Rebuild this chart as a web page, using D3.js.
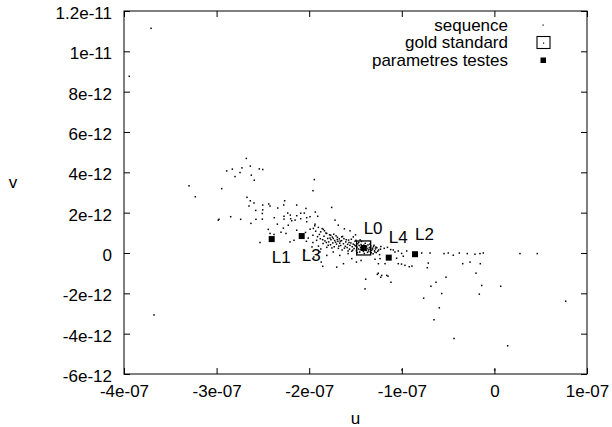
<!DOCTYPE html>
<html>
<head>
<meta charset="utf-8">
<script src="https://cdn.jsdelivr.net/npm/d3@7"></script>
<style>
  body { margin: 0; background: #fff; }
  text { font-family: "Liberation Sans", Arial, sans-serif; font-size: 17px; fill: #000; }
</style>
</head>
<body>
<div id="chart"></div>
<script>
// sequence points, u in units of 1e-7, v in units of 1e-12
const seqU = [
  -3.708,-3.943,-3.298,-2.945,-2.679,-2.891,-2.830,-2.801,-2.747,-2.726,-2.636,-2.625,-2.593,-2.539,-2.502,-1.945,-1.959,-3.230,-3.676,
  -2.672,-2.636,-2.596,-2.650,-2.502,-2.578,-2.502,-2.506,-2.437,-2.423,-2.340,-2.265,-2.275,-2.135,-2.035,-1.934,-2.848,-2.974,-2.740,-2.575,
  -2.506,-2.377,-2.272,-2.232,-2.204,-2.135,-2.092,-2.053,-2.027,-1.908,-2.272,-2.200,-2.092,-2.629,-2.531,-2.423,-2.380,-2.305,-2.279,-2.251,
  -2.207,-2.164,-2.135,-2.153,-2.189,-2.344,-2.226,-2.982,-2.442,-1.854,-1.703,
  -1.991,-2.027,-1.937,-1.955,-1.901,-1.876,-1.847,-1.811,-1.768,-1.740,-1.697,-1.649,-1.757,-1.721,-1.686,-1.559,-1.524,-1.883,
  -2.04,-2.01,-1.99,-1.96,-1.96,-1.93,-1.92,-1.90,-1.89,-1.88,-1.86,-1.85,-1.84,-1.83,-1.82,-1.81,-1.80,-1.79,-1.78,-1.77,
  -1.765,-1.75,-1.745,-1.73,-1.725,-1.71,-1.705,-1.69,-1.685,-1.675,-1.67,-1.66,-1.65,-1.645,-1.63,-1.625,-1.61,-1.605,-1.59,-1.585,
  -1.575,-1.565,-1.56,-1.55,-1.54,-1.535,-1.525,-1.515,-1.505,-1.50,-1.49,-1.485,-1.475,-1.47,-1.46,-1.455,-1.445,-1.44,-1.43,-1.425,
  -1.415,-1.41,-1.40,-1.395,-1.385,-1.38,-1.37,-1.365,-1.355,-1.35,-1.34,-1.335,-1.325,-1.32,-1.31,-1.305,-1.295,-1.285,-1.275,-1.27,
  -1.26,-1.25,-1.24,-1.23,
  -2.03,-1.97,-1.94,-1.91,-1.875,-1.855,-1.835,-1.815,-1.795,-1.775,-1.755,-1.735,-1.715,-1.695,-1.68,-1.665,-1.64,-1.62,-1.60,-1.58,
  -1.57,-1.545,-1.53,-1.51,-1.495,-1.48,-1.465,-1.45,-1.435,-1.42,-1.405,-1.39,-1.375,-1.36,-1.345,-1.33,-1.315,-1.30,-1.29,-1.28,
  -1.62,-1.50,-1.45,
  -1.81,-1.74,-1.67,-1.58,-1.54,-1.49,-1.44,-1.63,-1.87,-1.95,-2.05,
  -1.226,-1.190,-1.155,-1.120,-1.092,-1.074,-1.038,-1.002,-0.984,-0.947,-1.056,-1.235,-1.289,-1.181,-1.038,-0.966,-1.253,-0.785,
  -0.695,-0.714,-0.544,-0.498,-0.444,-0.379,-0.293,-0.210,-0.156,-0.120,-0.342,-0.263,-0.199,-0.523,-1.254,-1.217,-1.163,0.276,
  0.463,0.770,
  -1.390,-1.397,-1.264,-1.228,-1.149,-1.117,-1.003,-0.919,-0.890,-0.725,-0.631,-0.685,-0.569,-0.764,-0.595,-0.652,-0.436,-0.998,
  -0.152,-0.137,-0.163,0.068,0.143,0.003
];
const seqV = [
  11.14,8.76,3.33,3.19,4.69,4.07,4.16,3.79,3.99,4.22,4.31,3.86,3.61,4.17,4.14,3.64,3.09,2.79,-3.07,
  2.76,2.59,2.48,2.33,2.38,2.11,2.14,1.96,2.43,2.33,2.23,2.59,2.38,2.38,2.21,2.03,1.80,1.67,1.67,1.67,
  1.68,1.75,1.82,1.98,1.88,1.85,1.97,1.98,1.75,1.82,1.68,1.70,1.70,1.47,0.52,0.97,0.92,1.03,1.23,0.97,
  0.55,0.63,1.13,1.63,1.60,1.43,1.38,1.63,1.17,-0.66,-0.70,
  1.80,1.55,1.43,1.22,1.27,1.05,1.17,0.97,0.88,0.72,0.67,0.80,2.26,1.63,1.38,1.10,0.80,0.05,
  1.02,0.74,1.18,0.52,0.88,1.08,0.63,0.34,0.92,0.71,1.21,0.47,0.83,0.60,0.99,0.28,0.72,0.55,0.90,0.41,
  0.66,0.79,0.50,0.31,0.62,0.85,0.44,0.58,0.23,0.70,0.49,0.37,0.61,0.15,0.46,0.71,0.33,0.55,0.27,0.43,
  0.64,0.19,0.38,0.50,0.09,0.31,0.44,0.22,0.58,0.35,0.12,0.29,0.46,0.20,0.37,0.05,0.27,0.42,0.15,0.33,
  0.08,0.39,0.22,0.48,0.13,0.30,0.03,0.40,0.18,0.27,0.07,0.35,0.14,0.24,-0.04,0.31,0.11,0.20,0.02,0.26,
  0.09,0.15,-0.08,0.19,
  0.58,0.30,1.35,0.81,0.20,0.66,1.10,0.52,0.38,0.74,0.25,0.93,0.54,0.78,0.34,0.59,0.82,0.24,0.66,0.10,
  0.52,0.68,0.14,0.40,0.63,0.02,0.53,0.17,0.57,0.25,-0.02,0.34,0.21,0.10,0.44,0.01,0.20,0.38,0.05,0.29,
  1.20,0.90,0.65,
  -0.12,0.05,-0.12,-0.03,-0.28,-0.45,-0.37,-0.53,-0.45,-0.20,0.10,
  0.32,0.23,0.28,0.17,0.15,0.05,0.10,-0.02,-0.16,0.10,-0.26,-0.28,-0.31,-0.53,-0.53,-0.61,-0.53,0.00,
  0.00,-0.50,-0.03,0.00,-0.11,0.00,-0.03,-0.06,-0.03,0.00,-0.53,-0.45,-1.00,-1.20,-1.00,-1.11,-1.11,-0.03,
  -0.03,-2.39,
  -1.30,-1.78,-1.06,-1.20,-1.15,-1.45,-0.55,-0.68,-0.65,-0.73,-1.45,-1.65,-2.01,-2.24,-2.72,-3.31,-4.24,-5.80,
  -0.53,-1.61,-2.04,-1.65,-4.60,-5.80
];

// gold standard
const goldU = [-1.412];
const goldV = [0.25];

// tested parameters
const testNames = ["L0", "L1", "L2", "L3", "L4"];
const testU = [-1.412, -2.405, -0.857, -2.081, -1.141];
const testV = [0.25, 0.69, -0.06, 0.84, -0.23];

const uUnit = 1e-7, vUnit = 1e-12;

const xTicks = [-4e-7, -3e-7, -2e-7, -1e-7, 0, 1e-7];
const xTickLabels = ["-4e-07", "-3e-07", "-2e-07", "-1e-07", "0", "1e-07"];
const yTicks = [-6e-12, -4e-12, -2e-12, 0, 2e-12, 4e-12, 6e-12, 8e-12, 1e-11, 1.2e-11];
const yTickLabels = ["-6e-12", "-4e-12", "-2e-12", "0", "2e-12", "4e-12", "6e-12", "8e-12", "1e-11", "1.2e-11"];

const legendNames = ["sequence", "gold standard", "parametres testes"];

const W = 612, H = 427;
const MARGIN = { TOP: 11, BOTTOM: 53, LEFT: 124, RIGHT: 25 };
const WIDTH = W - MARGIN.LEFT - MARGIN.RIGHT;
const HEIGHT = H - MARGIN.TOP - MARGIN.BOTTOM;
const FONT = '"Liberation Sans", Arial, sans-serif';

const svg = d3.select("#chart").append("svg")
  .attr("width", W)
  .attr("height", H)
  .style("background", "#fff");

const g = svg.append("g")
  .attr("transform", `translate(${MARGIN.LEFT}, ${MARGIN.TOP})`);

const x = d3.scaleLinear().domain([-4e-7, 1e-7]).range([0, WIDTH]);
const y = d3.scaleLinear().domain([-6e-12, 1.2e-11]).range([HEIGHT, 0]);

// axes, ticks inward like gnuplot
const xAxis = d3.axisBottom(x).tickValues(xTicks).tickSize(-6).tickPadding(11)
  .tickFormat((d, i) => xTickLabels[i]);
const yAxis = d3.axisLeft(y).tickValues(yTicks).tickSize(-6).tickPadding(12)
  .tickFormat((d, i) => yTickLabels[i]);

const gx = g.append("g").attr("transform", `translate(0, ${HEIGHT})`).call(xAxis);
const gy = g.append("g").call(yAxis);
g.append("g").call(d3.axisTop(x).tickValues(xTicks).tickSize(-6).tickFormat(""));
g.append("g").attr("transform", `translate(${WIDTH}, 0)`)
  .call(d3.axisRight(y).tickValues(yTicks).tickSize(-6).tickFormat(""));

g.selectAll(".domain").remove();
g.selectAll(".tick line").attr("stroke", "#000");
g.selectAll(".tick text")
  .style("font-family", FONT)
  .style("font-size", "17px");
gy.selectAll(".tick text").attr("dy", "0.45em");

g.append("rect")
  .attr("width", WIDTH).attr("height", HEIGHT)
  .attr("fill", "none").attr("stroke", "#000").attr("stroke-width", 1);

// axis titles
svg.append("text")
  .attr("x", MARGIN.LEFT + WIDTH / 2).attr("y", 424)
  .attr("text-anchor", "middle")
  .text("u");
svg.append("text")
  .attr("x", 13).attr("y", 188)
  .attr("text-anchor", "middle")
  .text("v");

// sequence dots
const seq = seqU.map((u, i) => ({ u: u * uUnit, v: seqV[i] * vUnit }));
g.selectAll("rect.seq")
  .data(seq)
  .enter().append("rect")
    .attr("class", "seq")
    .attr("x", d => x(d.u) - 0.75)
    .attr("y", d => y(d.v) - 0.75)
    .attr("width", 1.5)
    .attr("height", 1.5)
    .attr("fill", "#000");

// gold standard box
const gold = goldU.map((u, i) => ({ u: u * uUnit, v: goldV[i] * vUnit }));
g.selectAll("rect.gold")
  .data(gold)
  .enter().append("rect")
    .attr("class", "gold")
    .attr("x", d => x(d.u) - 7)
    .attr("y", d => y(d.v) - 7)
    .attr("width", 14)
    .attr("height", 14)
    .attr("fill", "none")
    .attr("stroke", "#000")
    .attr("stroke-width", 1.3);

// tested parameters
const tests = testU.map((u, i) => ({ name: testNames[i], u: u * uUnit, v: testV[i] * vUnit }));
g.selectAll("rect.test")
  .data(tests)
  .enter().append("rect")
    .attr("class", "test")
    .attr("x", d => x(d.u) - 3)
    .attr("y", d => y(d.v) - 3)
    .attr("width", 6)
    .attr("height", 6)
    .attr("fill", "#000");

const labelDy = { L0: -14, L1: 24, L2: -14, L3: 25, L4: -15 };
g.selectAll("text.lab")
  .data(tests)
  .enter().append("text")
    .attr("class", "lab")
    .attr("x", d => x(d.u))
    .attr("y", d => y(d.v) + labelDy[d.name])
    .text(d => d.name);

// legend
const legend = svg.append("g");
legendNames.forEach((name, i) => {
  const ly = 25 + i * 17.5;
  legend.append("text")
    .attr("x", 508).attr("y", ly)
    .attr("dy", "0.35em")
    .attr("text-anchor", "end")
    .text(name);
  if (i === 0) {
    legend.append("rect").attr("x", 542.5).attr("y", ly - 0.5).attr("width", 1.2).attr("height", 1.2).attr("fill", "#000");
  } else if (i === 1) {
    legend.append("rect").attr("x", 537).attr("y", ly - 6).attr("width", 13).attr("height", 12)
      .attr("fill", "none").attr("stroke", "#000").attr("stroke-width", 1.1);
    legend.append("rect").attr("x", 543).attr("y", ly).attr("width", 1.2).attr("height", 1.2).attr("fill", "#000");
  } else {
    legend.append("rect").attr("x", 540.5).attr("y", ly - 2.5).attr("width", 5.5).attr("height", 5.5).attr("fill", "#000");
  }
});
</script>
</body>
</html>
